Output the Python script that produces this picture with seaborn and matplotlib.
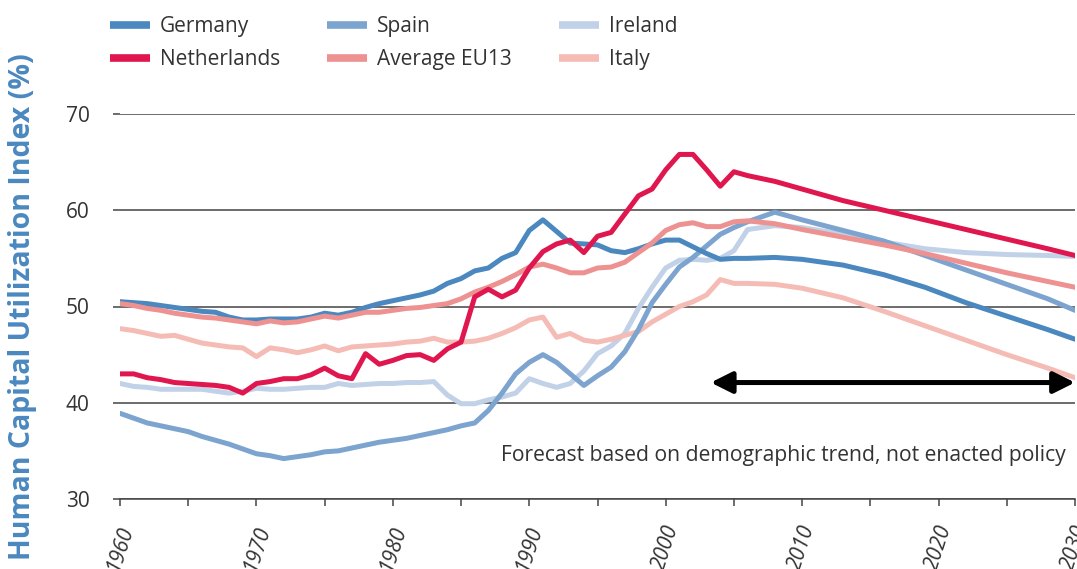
import matplotlib
matplotlib.use("Agg")
import matplotlib.pyplot as plt
from matplotlib.lines import Line2D
import pandas as pd
import seaborn as sns

# years: annual history to 2006, then forecast points
years = list(range(1960, 2007)) + [2008, 2010, 2013, 2016, 2019, 2022, 2025, 2028, 2030]

germany = [50.5, 50.4, 50.3, 50.1, 49.9, 49.7, 49.5, 49.4, 48.9, 48.6,
           48.6, 48.7, 48.7, 48.7, 48.9, 49.3, 49.1, 49.4, 49.9, 50.3,
           50.6, 50.9, 51.2, 51.6, 52.4, 52.9, 53.7, 54.0, 55.0, 55.6,
           57.9, 59.0, 57.8, 56.6, 56.5, 56.4, 55.8, 55.6, 56.0, 56.5,
           56.9, 56.9, 56.2, 55.5, 54.9, 55.0, 55.0,
           55.1, 54.9, 54.3, 53.3, 52.0, 50.4, 49.0, 47.6, 46.6]
netherlands = [43.0, 43.0, 42.6, 42.4, 42.1, 42.0, 41.9, 41.8, 41.6, 41.0,
               42.0, 42.2, 42.5, 42.5, 42.9, 43.6, 42.8, 42.5, 45.1, 44.0,
               44.4, 44.9, 45.0, 44.4, 45.6, 46.3, 51.0, 51.8, 51.0, 51.7,
               54.0, 55.7, 56.5, 56.9, 55.6, 57.3, 57.7, 59.6, 61.5, 62.2,
               64.2, 65.8, 65.8, 64.2, 62.5, 64.0, 63.6,
               63.0, 62.2, 61.0, 60.0, 59.0, 58.0, 57.0, 56.0, 55.3]
spain = [38.9, 38.4, 37.9, 37.6, 37.3, 37.0, 36.5, 36.1, 35.7, 35.2,
         34.7, 34.5, 34.2, 34.4, 34.6, 34.9, 35.0, 35.3, 35.6, 35.9,
         36.1, 36.3, 36.6, 36.9, 37.2, 37.6, 37.9, 39.2, 41.0, 43.0,
         44.2, 45.0, 44.2, 43.0, 41.8, 42.8, 43.7, 45.3, 47.6, 50.4,
         52.3, 54.1, 55.1, 56.3, 57.5, 58.2, 58.8,
         59.8, 59.0, 57.9, 56.8, 55.3, 53.8, 52.3, 50.8, 49.6]
eu13 = [50.3, 50.1, 49.8, 49.6, 49.3, 49.1, 48.9, 48.8, 48.6, 48.4,
        48.2, 48.5, 48.3, 48.4, 48.7, 49.0, 48.8, 49.1, 49.4, 49.4,
        49.6, 49.8, 49.9, 50.1, 50.3, 50.8, 51.5, 52.0, 52.6, 53.3,
        54.1, 54.4, 54.0, 53.5, 53.5, 54.0, 54.1, 54.6, 55.6, 56.6,
        57.9, 58.5, 58.7, 58.3, 58.3, 58.8, 58.9,
        58.6, 58.0, 57.2, 56.4, 55.5, 54.5, 53.5, 52.6, 52.0]
ireland = [42.0, 41.7, 41.6, 41.4, 41.4, 41.4, 41.4, 41.2, 41.0, 41.2,
           41.5, 41.4, 41.4, 41.5, 41.6, 41.6, 42.0, 41.8, 41.9, 42.0,
           42.0, 42.1, 42.1, 42.2, 40.8, 39.9, 39.9, 40.3, 40.6, 41.0,
           42.5, 42.0, 41.6, 42.0, 43.3, 45.1, 45.9, 47.2, 49.8, 52.0,
           54.0, 54.8, 54.9, 54.8, 55.0, 55.8, 58.0,
           58.4, 58.2, 57.5, 56.7, 56.0, 55.6, 55.4, 55.3, 55.2]
italy = [47.7, 47.5, 47.2, 46.9, 47.0, 46.6, 46.2, 46.0, 45.8, 45.7,
         44.8, 45.7, 45.5, 45.2, 45.5, 45.9, 45.4, 45.8, 45.9, 46.0,
         46.1, 46.3, 46.4, 46.7, 46.3, 46.3, 46.4, 46.7, 47.2, 47.8,
         48.6, 48.9, 46.8, 47.2, 46.5, 46.3, 46.6, 47.0, 47.4, 48.4,
         49.2, 50.0, 50.5, 51.2, 52.8, 52.4, 52.4,
         52.3, 51.9, 50.9, 49.5, 48.0, 46.5, 45.0, 43.6, 42.6]

series = {
    "Germany": germany,
    "Netherlands": netherlands,
    "Spain": spain,
    "Average EU13": eu13,
    "Ireland": ireland,
    "Italy": italy,
}
palette = {
    "Germany": "#4a88bf",
    "Spain": "#7ca4cf",
    "Ireland": "#c1d1e8",
    "Netherlands": "#e0174e",
    "Average EU13": "#ee9191",
    "Italy": "#f5bcb6",
}
legend_order = ["Germany", "Netherlands", "Spain", "Average EU13", "Ireland", "Italy"]
draw_order = ["Ireland", "Italy", "Spain", "Germany", "Average EU13", "Netherlands"]

forecast_from, forecast_to, arrow_level = 2003.3, 2030, 42.1
note = "Forecast based on demographic trend, not enacted policy"

df = pd.concat(
    [pd.DataFrame({"year": years, "value": v, "country": k}) for k, v in series.items()],
    ignore_index=True,
)

sns.set_style("white")
plt.rcParams["font.family"] = ["Open Sans", "DejaVu Sans"]
text_color = "#333333"
grid_color = "#444444"

fig = plt.figure(figsize=(10.77, 5.69), dpi=100)
ax = fig.add_axes([120 / 1077, 1 - 499 / 569, 955 / 1077, 385 / 569])

sns.lineplot(data=df, x="year", y="value", hue="country", hue_order=draw_order,
             palette=palette, linewidth=3.6, legend=False, ax=ax)

ax.set_xlim(1960, 2030)
ax.set_ylim(30, 70)
ax.set_yticks([30, 40, 50, 60, 70])
ax.set_xticks(range(1960, 2031, 10))
ax.set_xticks(range(1965, 2031, 10), minor=True)
ax.yaxis.grid(True, color=grid_color, linewidth=1.1)
ax.xaxis.grid(False)
for s in ["top", "right", "left"]:
    ax.spines[s].set_visible(False)
ax.spines["bottom"].set_color(grid_color)
ax.spines["bottom"].set_linewidth(1.1)

ax.tick_params(axis="y", which="major", left=True, direction="out", length=5,
               width=1.1, color=grid_color, pad=17, labelsize=15, labelcolor=text_color)
ax.tick_params(axis="x", which="both", bottom=True, direction="out", length=5,
               width=1.1, color=grid_color, pad=12, labelsize=15, labelcolor=text_color)
for lab in ax.get_xticklabels():
    lab.set_rotation(72)
    lab.set_fontstyle("italic")
    lab.set_horizontalalignment("center")

ax.set_xlabel("")
ax.set_ylabel("Human Capital Utilization Index (%)", fontsize=20.5, fontweight="bold",
              color="#4a88bf")
ax.yaxis.set_label_coords(-0.087, 0.5)

ax.annotate("", xy=(forecast_from, arrow_level), xytext=(forecast_to, arrow_level),
            arrowprops=dict(arrowstyle="<|-|>", lw=3.6, color="black",
                            mutation_scale=32, shrinkA=0, shrinkB=0),
            annotation_clip=False)
ax.text(2029.3, 34.5, note, ha="right", va="center", fontsize=15.2, color=text_color)

handles = [Line2D([0], [0], color=palette[c], lw=5.5, solid_capstyle="butt") for c in legend_order]
fig.legend(handles, legend_order, loc="upper left", ncol=3, frameon=False,
           bbox_to_anchor=(110 / 1077, 0.972), fontsize=15, handlelength=1.92,
           handletextpad=0.48, columnspacing=2.25, labelspacing=0.6,
           borderpad=0, borderaxespad=0, labelcolor=text_color)

fig.savefig("out.png", dpi=100)
